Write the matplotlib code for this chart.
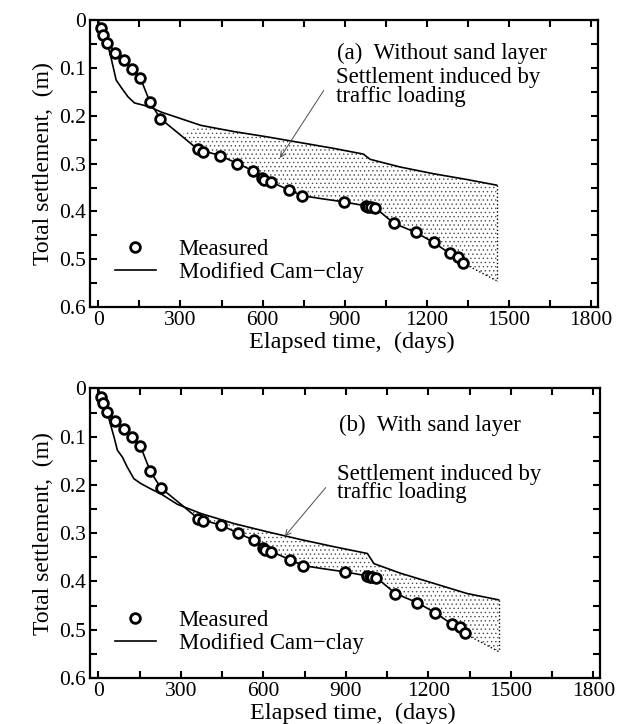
import matplotlib.pyplot as plt
import numpy as np

plt.rcParams['font.family'] = ['Liberation Serif', 'DejaVu Serif']
plt.rcParams['hatch.linewidth'] = 0.5

# ==== Measured settlement (same field data in both panels) ====
meas_days = [8, 17, 33, 62, 93, 122, 153, 189, 227, 363, 381, 444, 508, 566, 599,
             605, 629, 696, 744, 896, 978, 986, 995, 1011, 1080, 1160, 1225, 1284,
             1314, 1332]
meas_set = [0.017, 0.030, 0.048, 0.068, 0.084, 0.101, 0.120, 0.172, 0.206, 0.270,
            0.275, 0.283, 0.300, 0.315, 0.331, 0.334, 0.338, 0.355, 0.367, 0.380,
            0.389, 0.391, 0.390, 0.392, 0.425, 0.444, 0.465, 0.488, 0.495, 0.507]

# ==== Modified Cam-clay (a) without sand layer ====
cam_a_days = [0, 5, 33, 47, 65, 84, 108, 132, 187, 229, 375, 496, 617, 738, 859,
              968, 993, 1102, 1223, 1344, 1455]
cam_a_set = [0.0, 0.014, 0.049, 0.080, 0.125, 0.141, 0.160, 0.173, 0.181, 0.192,
             0.220, 0.233, 0.244, 0.256, 0.268, 0.280, 0.291, 0.307, 0.321, 0.333,
             0.345]

# ==== Modified Cam-clay (b) with sand layer ====
cam_b_days = [0, 2, 33, 57, 69, 87, 105, 129, 154, 190, 226, 287, 372, 493, 614,
              735, 857, 978, 1002, 1099, 1220, 1341, 1455]
cam_b_set = [0.0, 0.018, 0.052, 0.101, 0.128, 0.142, 0.163, 0.187, 0.197, 0.208,
             0.218, 0.240, 0.259, 0.280, 0.297, 0.313, 0.328, 0.342, 0.363, 0.383,
             0.404, 0.425, 0.438]

# ==== Lower curve (with traffic loading) ====
low_days = [0, 5, 33, 153, 189, 227, 300, 363, 444, 566, 629, 744, 811, 896, 1011,
            1080, 1160, 1225, 1284, 1332]
low_set = [0.0, 0.014, 0.048, 0.120, 0.172, 0.206, 0.240, 0.270, 0.283, 0.315,
           0.338, 0.367, 0.373, 0.380, 0.392, 0.425, 0.444, 0.465, 0.488, 0.508]
ext_days = [1332, 1455]
ext_set = [0.508, 0.545]

panels = [
    dict(rect=[0.144, 0.576, 0.811, 0.396], cam_d=cam_a_days, cam_s=cam_a_set,
         title='(a)  Without sand layer', title_y=0.069, note_y=0.140,
         arrow_from=(829, 0.142), arrow_to=(658, 0.293), shade_from=230),
    dict(rect=[0.144, 0.0635, 0.815, 0.400], cam_d=cam_b_days, cam_s=cam_b_set,
         title='(b)  With sand layer', title_y=0.077, note_y=0.197,
         arrow_from=(833, 0.201), arrow_to=(671, 0.311), shade_from=300),
]

fig = plt.figure(figsize=(6.26, 7.24), dpi=100)

for p in panels:
    ax = fig.add_axes(p['rect'])
    cd = np.array(p['cam_d']); cs = np.array(p['cam_s'])
    ld = np.array(low_days + ext_days[1:]); ls = np.array(low_set + ext_set[1:])
    # stippled zone between the two curves
    up = cd >= p['shade_from']
    lo = ld >= p['shade_from']
    px = np.concatenate([cd[up], ld[lo][::-1]])
    py = np.concatenate([cs[up], ls[lo][::-1]])
    ax.fill(px, py, facecolor='none', edgecolor='0.3', hatch='....', linewidth=0)

    ax.plot(cd, cs, color='black', lw=1.2, label='Modified Cam\u2212clay')
    ax.plot(low_days, low_set, color='black', lw=1.2)
    ax.plot(ext_days, ext_set, color='black', lw=1.0, ls=':')
    ax.plot([cd[-1], cd[-1]], [cs[-1], ext_set[-1]], color='black', lw=1.0, ls=':')
    ax.plot(meas_days, meas_set, 'o', ms=7, mfc='white', mec='black', mew=2,
            label='Measured')

    ax.text(873, p['title_y'], p['title'], fontsize=16.5, va='center')
    ax.text(869, p['note_y'], 'Settlement induced by\ntraffic loading',
            fontsize=16.5, va='center', linespacing=0.85)
    ax.annotate('', xy=p['arrow_to'], xytext=p['arrow_from'],
                arrowprops=dict(arrowstyle='->', color='0.3', lw=0.7))

    h, l = ax.get_legend_handles_labels()
    ax.legend(h[::-1], l[::-1], loc='lower left', bbox_to_anchor=(0.03, 0.05),
              frameon=False, fontsize=16.5, handlelength=1.8, handletextpad=1.0,
              labelspacing=0.1, borderaxespad=0)

    ax.set_xlim(-30, 1825)
    ax.set_ylim(0.6, 0)
    ax.set_xticks([0, 300, 600, 900, 1200, 1500, 1800])
    ax.set_xticks(np.arange(150, 1800, 300), minor=True)
    ax.set_yticks([0, 0.1, 0.2, 0.3, 0.4, 0.5, 0.6])
    ax.set_yticklabels(['0', '0.1', '0.2', '0.3', '0.4', '0.5', '0.6'])
    ax.set_yticks(np.arange(0.05, 0.6, 0.1), minor=True)
    ax.tick_params(which='both', direction='in', top=True, right=True,
                   length=5, width=1.5, labelsize=15.5, pad=3)
    for s in ax.spines.values():
        s.set_linewidth(1.6)
    ax.set_xlabel('Elapsed time,  (days)', fontsize=17.5, labelpad=0)
    ax.xaxis.set_label_coords(0.515, -0.085)
    ax.set_ylabel('Total settlement,  (m)', fontsize=17, labelpad=4)

fig.savefig('out.png', dpi=100)
